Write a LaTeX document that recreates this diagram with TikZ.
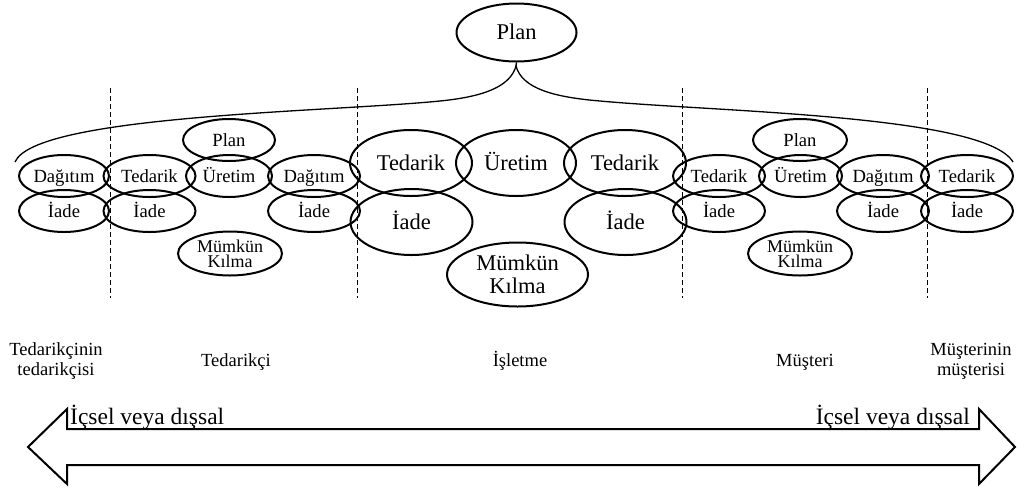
\documentclass[tikz,border=0pt]{standalone}
\usepackage{fontspec}
\setmainfont{Liberation Serif}
\usetikzlibrary{shapes.geometric}

\tikzset{
  ell/.style 2 args={ellipse, draw, line width=2pt, inner sep=0pt,
    minimum width=#1pt, minimum height=#2pt},
  small/.style={font=\fontsize{18.6}{14}\selectfont, text height=12.3pt, text depth=0pt},
  large/.style={font=\fontsize{22.5}{23}\selectfont, text height=14.9pt, text depth=0pt},
  small2/.style={font=\fontsize{18}{15}\selectfont, align=center},
  large2/.style={font=\fontsize{22.5}{23.5}\selectfont, align=center},
  tier/.style={font=\fontsize{18.5}{20}\selectfont, align=center, inner sep=0pt},
  sep/.style={dash pattern=on 5pt off 3pt, line width=1pt},
  brace/.style={line width=1.3pt},
  band/.style={line width=2pt, line join=miter},
  bandtext/.style={font=\fontsize{23.5}{24}\selectfont, inner sep=0pt, anchor=base west}
}

\begin{document}
\begin{tikzpicture}[x=1pt, y=-1pt]
\useasboundingbox (0,0) rectangle (1017,491);

% boundaries between the chain members
\foreach \xx in {110,357,682,927}
  \draw[sep] (\xx,88) -- (\xx,298);

% top-level planning
\node[ell={120}{58}, large] (plan) at (516.5,32.5) {Plan};

% supplier's supplier / supplier
\node[ell={90}{42}, small] (d1) at (64,176) {Dağıtım};
\node[ell={92}{42}, small] (t1) at (149.5,176) {Tedarik};
\node[ell={86}{42}, small] (u1) at (229,176) {Üretim};
\node[ell={92}{42}, small] (d2) at (314,176) {Dağıtım};
\node[ell={92}{42}, small] (p1) at (229,140) {Plan};
\node[ell={90}{42}, small] (i1) at (64,211) {İade};
\node[ell={92}{42}, small] (i2) at (149.5,211) {İade};
\node[ell={92}{42}, small] (i3) at (314,211) {İade};
\node[ell={104}{44}, small2] (m1) at (230,253.5) {Mümkün\\Kılma};

% the company
\node[ell={122}{66}, large] (T2) at (411,163) {Tedarik};
\node[ell={120}{66}, large] (U2) at (516,163) {Üretim};
\node[ell={122}{66}, large] (T3) at (625,163) {Tedarik};
\node[ell={122}{66}, large] (I4) at (411.5,222) {İade};
\node[ell={122}{66}, large] (I5) at (625.5,222) {İade};
\node[ell={141}{64}, large2] (M2) at (517.5,274.5) {Mümkün\\Kılma};

% customer / customer's customer
\node[ell={92}{42}, small] (t4) at (719,176) {Tedarik};
\node[ell={83}{42}, small] (u4) at (800.5,176) {Üretim};
\node[ell={92}{42}, small] (d4) at (883,176) {Dağıtım};
\node[ell={92}{42}, small] (t5) at (967,176) {Tedarik};
\node[ell={94}{42}, small] (p4) at (800,140) {Plan};
\node[ell={92}{42}, small] (i6) at (719,211) {İade};
\node[ell={92}{42}, small] (i7) at (883,211) {İade};
\node[ell={92}{42}, small] (i8) at (967,211) {İade};
\node[ell={104}{44}, small2] (m4) at (800,253.5) {Mümkün\\Kılma};

% brace under the top plan
\coordinate (tip) at (516,66);
\coordinate (bl) at (15,162);
\coordinate (br) at (1013,162);
\draw[brace] (bl) .. controls (35,115) and (330,112) .. (440,101)
  .. controls (480,97) and (510,88) .. (tip)
  .. controls (522,88) and (552,97) .. (600,101)
  .. controls (720,112) and (985,115) .. (br);
\draw[brace] (tip) -- (plan.south);

% chain members
\node[tier] (l1) at (56,361.5) {Tedarikçinin\\tedarikçisi};
\node[tier, anchor=base] (l2) at (236,366) {Tedarikçi};
\node[tier, anchor=base] (l3) at (520,366) {İşletme};
\node[tier, anchor=base] (l4) at (805,366) {Müşteri};
\node[tier] (l5) at (971,361.5) {Müşterinin\\müşterisi};

% double-headed band
\draw[band] (67,429) -- (67,409) -- (28,447) -- (67,484) -- (67,465)
  -- (979,465) -- (979,484) -- (1015,447) -- (979,409) -- (979,429) -- cycle;
\node[bandtext] (b1) at (70,424) {İçsel veya dışsal};
\node[bandtext, anchor=base east] (b2) at (970,424) {İçsel veya dışsal};
\end{tikzpicture}
\end{document}
